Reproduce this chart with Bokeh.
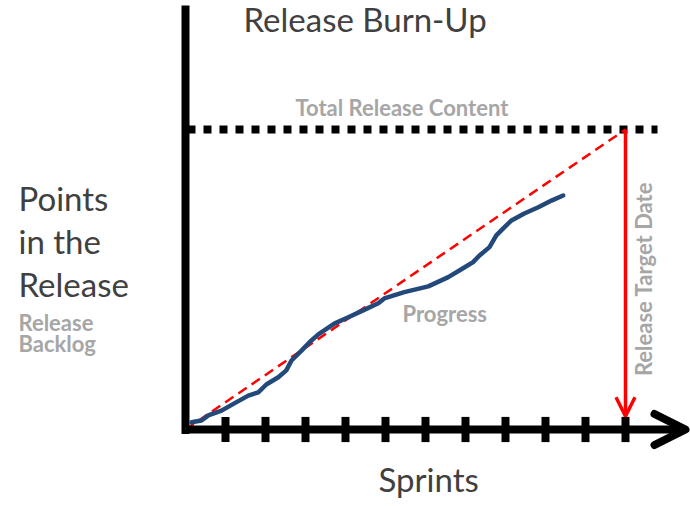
from bokeh.plotting import figure
from bokeh.models import Range1d, Arrow, OpenHead
from bokeh.core.properties import value
from bokeh.embed import file_html
from bokeh.resources import INLINE

# Sprint ticks along the time axis
sprints = list(range(1, 12))

# Release scope (points) and the sprint the release is due
total_release_content = 100
release_target_sprint = 11

# Actual completed points over time
progress_sprint = [0.15, 0.4, 0.57, 0.9, 1.22, 1.57, 1.82, 2.02, 2.32, 2.52, 2.65,
                   2.9, 3.1, 3.32, 3.72, 4.07, 4.44, 4.82, 4.97, 5.47, 6.07, 6.57,
                   6.97, 7.19, 7.35, 7.6, 7.77, 7.97, 8.15, 8.47, 8.82, 9.15, 9.44]
progress_points = [2.4, 3.0, 4.7, 6.3, 8.7, 11.3, 12.4, 15.0, 17.4, 19.7, 23.0,
                   26.3, 29.1, 31.7, 35.3, 37.4, 39.7, 42.1, 43.7, 45.8, 47.7, 50.8,
                   54.0, 55.8, 58.0, 60.8, 64.7, 67.4, 69.7, 72.0, 74.1, 76.3, 78.0]

FONT = value("Lato")
DARK = "#404040"
GREY = "#a6a6a6"

p = figure(width=690, height=506, min_border=0, toolbar_location=None,
           output_backend="svg", x_axis_location=None, y_axis_location=None,
           x_range=Range1d(-4.625, 12.625), y_range=Range1d(-25.667, 143.0))
p.grid.visible = False
p.outline_line_color = None
p.background_fill_color = "white"

# Vertical axis bar
p.segment(x0=[0], y0=[-1.5], x1=[0], y1=[141.3], line_width=8, line_color="black")

# Horizontal time axis with arrow head
p.add_layout(Arrow(end=OpenHead(size=31, line_width=8, line_color="black",
                                line_cap="round", line_join="round"),
                   x_start=0, y_start=0, x_end=12.5, y_end=0,
                   line_width=8, line_color="black"))

# Sprint tick marks crossing the axis
p.segment(x0=sprints, y0=[-4.2] * len(sprints), x1=sprints, y1=[4.2] * len(sprints),
          line_width=8, line_color="black")

# Total release content (dotted)
p.segment(x0=[0.05], y0=[total_release_content], x1=[11.8], y1=[total_release_content],
          line_width=8, line_color="black", line_dash="8 8")

# Ideal burn-up line
p.line([0, release_target_sprint], [0, total_release_content],
       line_width=2.5, line_color="#ff0000", line_dash="10 6")

# Release target date arrow
p.add_layout(Arrow(end=OpenHead(size=19, line_width=3.5, line_color="#ff0000"),
                   x_start=release_target_sprint, y_start=total_release_content,
                   x_end=release_target_sprint, y_end=4.4,
                   line_width=3.5, line_color="#ff0000"))

# Actual progress
p.line(progress_sprint, progress_points, line_width=4.5, line_color="#23487a",
       line_join="round", line_cap="round")

# Titles and labels
p.text(x=[1.45], y=[136.7], text=["Release Burn-Up"], text_font=FONT,
       text_font_size="33px", text_color=DARK, text_baseline="alphabetic")
p.text(x=[4.825], y=[-16.6], text=["Sprints"], text_font=FONT,
       text_font_size="33px", text_color=DARK, text_baseline="alphabetic")
p.text(x=[-4.175] * 3, y=[77.07, 62.73, 48.4], text=["Points", "in the", "Release"],
       text_font=FONT, text_font_size="33px", text_color=DARK,
       text_baseline="alphabetic")
p.text(x=[-4.175] * 2, y=[35.5, 28.5], text=["Release", "Backlog"],
       text_font=FONT, text_font_size="22px", text_font_style="bold",
       text_color=GREY, text_baseline="alphabetic")
p.text(x=[5.41], y=[107.17], text=["Total Release Content"], text_font=FONT,
       text_font_size="22px", text_font_style="bold", text_color=GREY,
       text_align="center", text_baseline="alphabetic")
p.text(x=[5.425], y=[38.83], text=["Progress"], text_font=FONT,
       text_font_size="22px", text_font_style="bold", text_color=GREY,
       text_baseline="alphabetic")
p.text(x=[11.46], y=[50.17], text=["Release Target Date"], angle=1.5708,
       text_font=FONT, text_font_size="22px", text_font_style="bold",
       text_color=GREY, text_align="center", text_baseline="alphabetic")

open("out.html", "w").write(file_html(p, INLINE))
